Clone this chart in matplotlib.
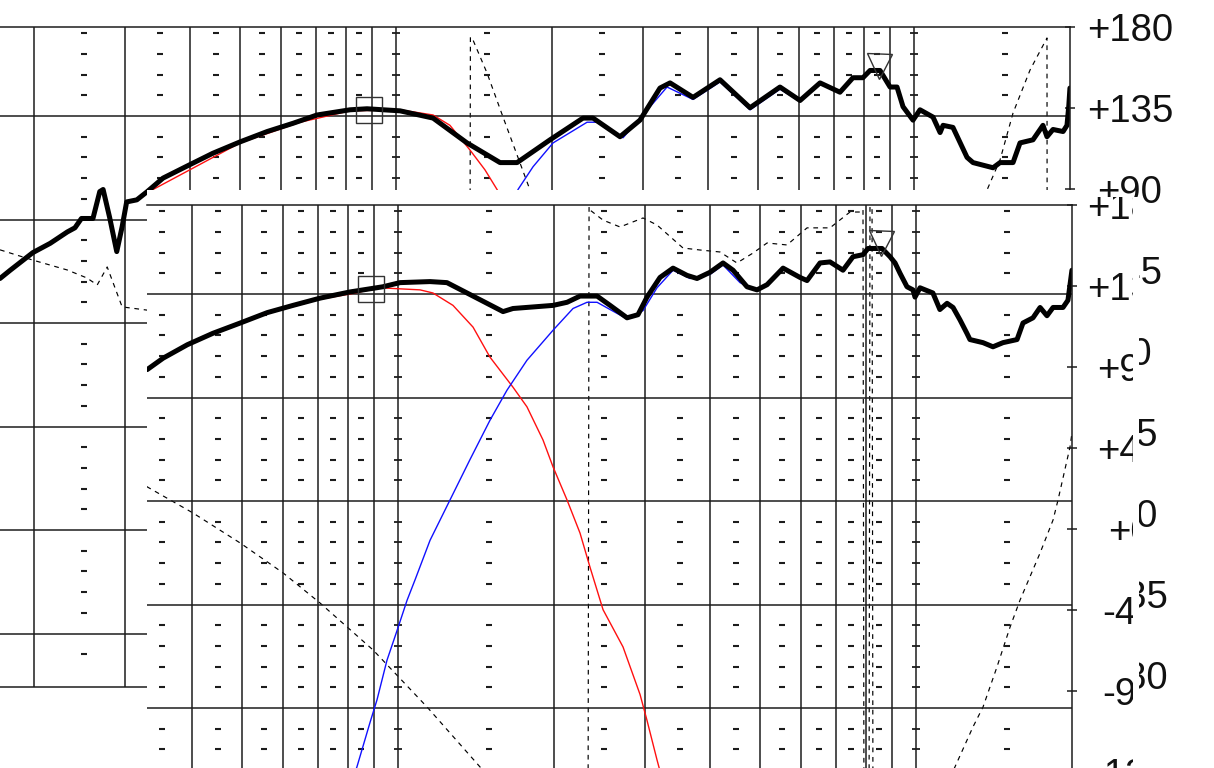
import numpy as np
import matplotlib
matplotlib.use("Agg")
import matplotlib.pyplot as plt
from matplotlib.patches import Polygon
from matplotlib.transforms import Bbox
from matplotlib.ticker import FixedLocator, NullLocator

# ---------------- data: back (older) measurement ----------------
back_mag_f = [172, 180, 199, 215, 232, 240, 247, 260, 268, 272, 280, 289, 296, 302, 316, 331, 355, 400,
              443, 500, 564, 633, 704, 815, 879, 1018, 1179, 1371, 1588, 1713, 1983, 2296, 2401, 2707,
              2958, 3233, 3381, 3745, 4222, 4825, 5512, 6026, 6586, 7196, 7624, 7970, 8225, 8598, 8990,
              9273, 9524, 9956, 10270, 10880, 11230, 11380, 11890, 12660, 13000, 14210, 14660, 15530,
              16020, 16970, 17740, 18060, 18550, 19400, 19740, 19900, 20000]
back_mag_db = [74.3, 75.1, 76.8, 77.7, 78.8, 79.2, 80.1, 80.1, 82.7, 82.9, 80.2, 76.9, 79.3, 81.7, 81.9,
               82.7, 84.0, 85.3, 86.4, 87.5, 88.5, 89.3, 90.1, 90.6, 90.7, 90.5, 89.8, 87.4, 85.5, 85.5,
               87.7, 89.8, 89.8, 88.0, 89.6, 92.7, 93.2, 91.8, 93.5, 90.8, 92.8, 91.5, 93.2, 92.3, 93.7,
               93.7, 94.4, 94.4, 92.8, 92.8, 90.9, 89.6, 90.6, 89.9, 88.4, 89.1, 88.9, 86.0, 85.5, 85.0,
               85.5, 85.5, 87.4, 87.7, 89.1, 88.0, 88.7, 88.5, 89.1, 91.0, 92.7]

back_woofer_f = [331, 500, 653, 815, 1018, 1179, 1271, 1390, 1485, 1567, 1660, 1800]
back_woofer_db = [82.6, 87.4, 89.4, 90.5, 90.6, 90.1, 89.1, 86.7, 84.8, 82.9, 80.4, 76.0]

back_tweeter_f = [1623, 1720, 1839, 2010, 2338, 2443, 2743, 2998, 3336, 3745, 4222, 4825, 5512, 6026]
back_tweeter_db = [78.0, 82.9, 85.1, 87.4, 89.4, 89.4, 87.9, 90.1, 92.8, 91.6, 93.3, 90.6, 92.6, 91.4]

back_phase_f = [172, 199, 232, 253, 265, 277, 296, 331, 400, 600, 900, 1200, 1385, 1392, 1408, 1499,
                1609, 1814, 2073, 3000, 5000, 8000, 12270, 13890, 14660, 15530, 16750, 18060, 18100, 20000]
back_phase_deg = [56.2, 50.5, 45.0, 40.6, 36.7, 46.7, 24.5, 22.7, 15, -10, -60, -120, -178, 174.4, 172.8,
                  154.4, 130.0, 89.5, 45.0, 20, 0, 10, 50, 90.6, 106.2, 132.2, 156.1, 173.9, -178, -150]

back_marker_db = [90.6, 94.8]

# ---------------- data: front (newer) measurement ----------------
front_mag_f = [328, 352, 392, 439, 496, 559, 627, 707, 808, 935, 1009, 1153, 1243, 1359, 1595, 1667,
               1992, 2120, 2246, 2423, 2567, 2768, 2906, 3025, 3205, 3396, 3614, 3778, 4003, 4241, 4434,
               4718, 4933, 5158, 5538, 5972, 6161, 6527, 6823, 7229, 7557, 7901, 8078, 8598, 8911, 9111,
               9315, 9608, 9867, 9956, 10180, 10780, 11120, 11480, 11790, 12160, 12540, 12710, 13470,
               14080, 14720, 15670, 16090, 16820, 17360, 17900, 18390, 19220, 19650, 20000]
front_mag_db = [82.7, 83.8, 85.1, 86.2, 87.2, 88.2, 88.9, 89.6, 90.2, 90.7, 91.1, 91.2, 91.1, 90.1, 88.3,
                88.6, 88.9, 89.2, 89.8, 89.8, 88.9, 87.7, 88.0, 89.7, 91.6, 92.5, 91.8, 91.5, 92.1, 93.0,
                92.3, 90.7, 90.4, 90.9, 92.5, 91.6, 91.3, 93.0, 93.1, 92.3, 93.6, 93.8, 94.4, 94.4, 93.6,
                93.0, 92.0, 90.7, 90.4, 89.7, 90.6, 90.1, 88.5, 89.1, 88.7, 87.5, 86.2, 85.6, 85.3, 84.9,
                85.3, 85.6, 87.2, 87.7, 88.7, 87.9, 88.7, 88.7, 89.4, 92.3]

front_woofer_f = [559, 707, 808, 923, 1103, 1168, 1277, 1396, 1505, 1667, 1774, 1905, 1992, 2120, 2246,
                  2348, 2488, 2719, 2933, 3025, 3162, 3277]
front_woofer_db = [88.1, 89.5, 90.0, 90.6, 90.4, 90.1, 88.9, 86.8, 83.9, 81.0, 79.1, 75.9, 73.3, 70.1,
                   66.9, 63.6, 59.5, 55.9, 51.3, 48.8, 45.0, 42.1]

front_tweeter_f = [815, 833, 883, 911, 952, 996, 1041, 1079, 1153, 1260, 1377, 1505, 1623, 1774, 1992,
                   2177, 2317, 2423, 2567, 2768, 2972, 3162, 3396, 3662, 4003, 4241, 4574, 4933]
front_tweeter_db = [43.0, 44.3, 48.6, 50.8, 54.6, 57.5, 60.4, 62.4, 66.2, 70.1, 74.0, 77.8, 80.7, 83.6,
                    86.5, 88.6, 89.2, 89.2, 88.5, 87.6, 88.4, 90.6, 92.3, 91.5, 91.9, 92.8, 91.1, 90.3]

front_phase_f = [300, 328, 402, 496, 600, 707, 895, 1138, 1440, 1573, 1880, 2327, 2338, 2348, 2488, 2683,
                 2972, 3162, 3550, 3828, 4184, 4512, 4845, 5158, 5636, 6161, 6823, 7457, 7797, 7901, 7937,
                 8114, 8150, 8225, 8261, 9315, 11120, 11890, 12880, 13470, 14330, 15190, 15880, 17360,
                 18390, 18800, 19830, 20000]
front_phase_deg = [35, 23.4, 8.9, -7.8, -24.4, -41.1, -67.2, -98.9, -132.2, -145.0, -172, -179, 179,
                   177.2, 171.6, 167.8, 172.8, 168.9, 156.1, 155.0, 153.9, 147.8, 153.3, 158.9, 157.8,
                   167.3, 167.3, 176.1, 176.1, 177.5, -179, -179, 179, 179, -179, -172, -150, -132.2,
                   -110.0, -98.9, -76.7, -54.5, -39.5, -13.3, 5.0, 16.1, 45.6, 53.3]

front_marker_db = [90.5, 94.9]

# shared
marker_f = [887, 8559]
grid_f = [200, 300, 400, 500, 600, 700, 800, 900, 1000, 2000, 3000, 4000, 5000, 6000, 7000, 8000, 9000, 10000]
minor_f = [250, 350, 450, 550, 650, 750, 850, 1500, 2500, 3500, 4500, 5500, 6500, 7500, 8500, 15000]
decade_f = [1000, 10000]
grid_db = [40, 50, 60, 70, 80, 90]
minor_db = [d for d in range(38, 100, 2) if d % 10 != 0]
phase_ticks = [180, 135, 90, 45, 0, -45, -90, -135, -180]
phase_labels = ["+180", "+135", "+90", "+45", "+0", "-45", "-90", "-135", "-180"]

# ---------------- layout (pixels) ----------------
W, H, DPI = 1214, 768, 100
PX_DECADE = 518.0
PX_DB = 10.35
DB_TOP = 98.6
PX_DEG = 81.0 / 45.0
LABEL_X = 1130
CUT_X = 1139      # right edge of the pasted front screenshot
FRONT_CLIP_X = 1133
INK = "#1c1c1c"

fig = plt.figure(figsize=(W / DPI, H / DPI), dpi=DPI)
fig.patch.set_facecolor("white")


def frect(x0, y0, x1, y1):
    return [x0 / W, 1 - y1 / H, (x1 - x0) / W, (y1 - y0) / H]


def chart(x0, x1, top, bot, k1_px, z, show_bottom):
    f_lo = 1000 * 10 ** ((x0 - k1_px) / PX_DECADE)
    f_hi = 1000 * 10 ** ((x1 - k1_px) / PX_DECADE)
    db_lo = DB_TOP - (bot - top) / PX_DB
    ph_lo = 180 - (bot - top) / PX_DEG
    rect = frect(x0, top, x1, bot)

    ax_p = fig.add_axes(rect, zorder=z)
    ax_p.patch.set_visible(False)
    ax_p.set_xscale("log")
    ax_p.set_xlim(f_lo, f_hi)
    ax_p.set_ylim(ph_lo, 180)
    ax_p.xaxis.set_major_locator(NullLocator())
    ax_p.xaxis.set_minor_locator(NullLocator())
    for s in ax_p.spines.values():
        s.set_visible(False)
    ax_p.yaxis.tick_right()
    ax_p.yaxis.set_major_locator(FixedLocator(phase_ticks))
    ax_p.tick_params(axis="y", direction="inout", length=6.5, width=1.1, color=INK,
                     labelright=False, labelleft=False)

    ax_m = fig.add_axes(rect, zorder=z + 0.1)
    ax_m.patch.set_visible(False)
    ax_m.set_xscale("log")
    ax_m.set_xlim(f_lo, f_hi)
    ax_m.set_ylim(db_lo, DB_TOP)
    ax_m.xaxis.set_major_locator(FixedLocator(grid_f))
    ax_m.xaxis.set_minor_locator(NullLocator())
    ax_m.yaxis.set_major_locator(FixedLocator(grid_db))
    ax_m.yaxis.set_minor_locator(NullLocator())
    ax_m.tick_params(length=0, labelbottom=False, labelleft=False)
    ax_m.grid(True, color=INK, lw=1.1)
    ax_m.set_axisbelow(True)
    ax_m.spines["left"].set_visible(False)
    ax_m.spines["bottom"].set_visible(show_bottom)
    for s in ax_m.spines.values():
        s.set_color(INK)
        s.set_linewidth(1.1)

    mx, my = np.meshgrid(minor_f, minor_db)
    ax_m.plot(mx.ravel(), my.ravel(), ls="none", marker="_", ms=4.2, mew=1.5, color=INK)
    dx, dy = np.meshgrid(decade_f, minor_db)
    ax_m.plot(dx.ravel(), dy.ravel(), ls="none", marker="_", ms=6.2, mew=1.3, color=INK)
    return ax_p, ax_m


def draw_curves(ax_p, ax_m, ph_f, ph_d, wf, wd, tf, td, mf, md, mk_db):
    ax_p.plot(ph_f, ph_d, color="black", lw=0.85, ls=(0, (4, 4)))
    ax_m.plot(wf, wd, color="#ff1010", lw=1.0)
    ax_m.plot(tf, td, color="#1010ff", lw=1.0)
    ax_m.plot(mf, md, color="black", lw=3.6, solid_joinstyle="round", solid_capstyle="round")
    ax_m.plot(marker_f[0], mk_db[0], marker="s", ms=18.5, mfc="none", mec="#333333", mew=1.0)
    ax_m.plot(marker_f[1], mk_db[1], marker="v", ms=18, mfc="none", mec="#333333", mew=1.0)


def draw_labels(top, z, clip=None):
    for v, s in zip(phase_ticks, phase_labels):
        ypx = top + (180 - v) * PX_DEG
        t = fig.text(LABEL_X / W, 1 - (ypx + 13.7) / H, s, ha="center", va="baseline",
                     fontsize=27.5, family="Liberation Sans", color="#111111", zorder=z)
        if clip is not None:
            t.set_clip_on(True)
            t.set_clip_box(clip)


# back chart
bp, bm = chart(0, 1070, 27, 687, 396, 1, True)
draw_curves(bp, bm, back_phase_f, back_phase_deg, back_woofer_f, back_woofer_db,
            back_tweeter_f, back_tweeter_db, back_mag_f, back_mag_db, back_marker_db)
draw_labels(27, 1.5)

# white area of the front screenshot
cover = [(147, 190), (1078, 190), (1078, 197), (CUT_X, 197), (CUT_X, H + 5), (147, H + 5)]
fig.add_artist(Polygon([(x / W, 1 - y / H) for x, y in cover], closed=True,
                       transform=fig.transFigure, facecolor="white", edgecolor="none", zorder=2))

# front chart
fp, fm = chart(147, 1072, 205, H, 398, 3, False)
draw_curves(fp, fm, front_phase_f, front_phase_deg, front_woofer_f, front_woofer_db,
            front_tweeter_f, front_tweeter_db, front_mag_f, front_mag_db, front_marker_db)
draw_labels(205, 4, clip=Bbox.from_extents(147, 0, FRONT_CLIP_X, H - 197))

fig.savefig("out.png", dpi=DPI, facecolor="white")
